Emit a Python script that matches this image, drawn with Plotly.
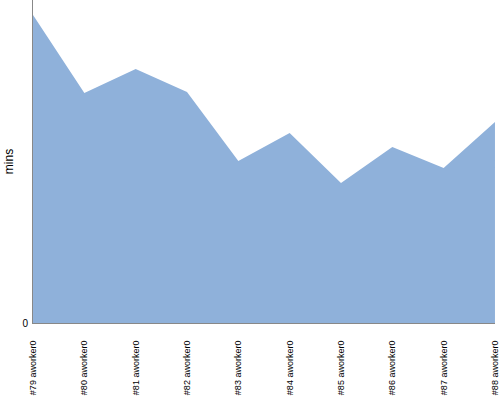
import plotly.graph_objects as go

categories = ["#79 aworker0", "#80 aworker0", "#81 aworker0", "#82 aworker0", "#83 aworker0",
              "#84 aworker0", "#85 aworker0", "#86 aworker0", "#87 aworker0", "#88 aworker0"]
mins = [30.8, 23.0, 25.4, 23.1, 16.2, 19.0, 14.0, 17.6, 15.5, 20.1]

fig = go.Figure()
fig.add_trace(go.Scatter(
    x=categories, y=mins, mode="lines", fill="tozeroy",
    line=dict(width=0, color="#8fb1da"), fillcolor="#8fb1da",
    hoverinfo="x+y",
))
fig.update_layout(
    width=500, height=400,
    margin=dict(l=33, r=5, t=0, b=77),
    paper_bgcolor="white", plot_bgcolor="white",
    showlegend=False,
    font=dict(family="Liberation Sans, Arial, sans-serif", color="black"),
    xaxis=dict(type="category", range=[-0.0005, 9.0005], tickangle=-90, showgrid=False, zeroline=False,
               showline=True, linecolor="#888888", linewidth=1, ticks="", automargin=False,
               tickfont=dict(size=9), ticklabelstandoff=13),
    yaxis=dict(range=[0, 32.3], tickvals=[0], ticktext=["0"], showgrid=False, zeroline=False,
               showline=True, linecolor="#888888", linewidth=1, ticks="", automargin=False,
               tickfont=dict(size=10), ticklabelstandoff=2,
               title=dict(text="mins", font=dict(size=12), standoff=6)),
)
fig.write_html("out.html", config={"displayModeBar": False},
               post_script="document.body.style.margin='0';document.body.style.overflow='hidden';")
